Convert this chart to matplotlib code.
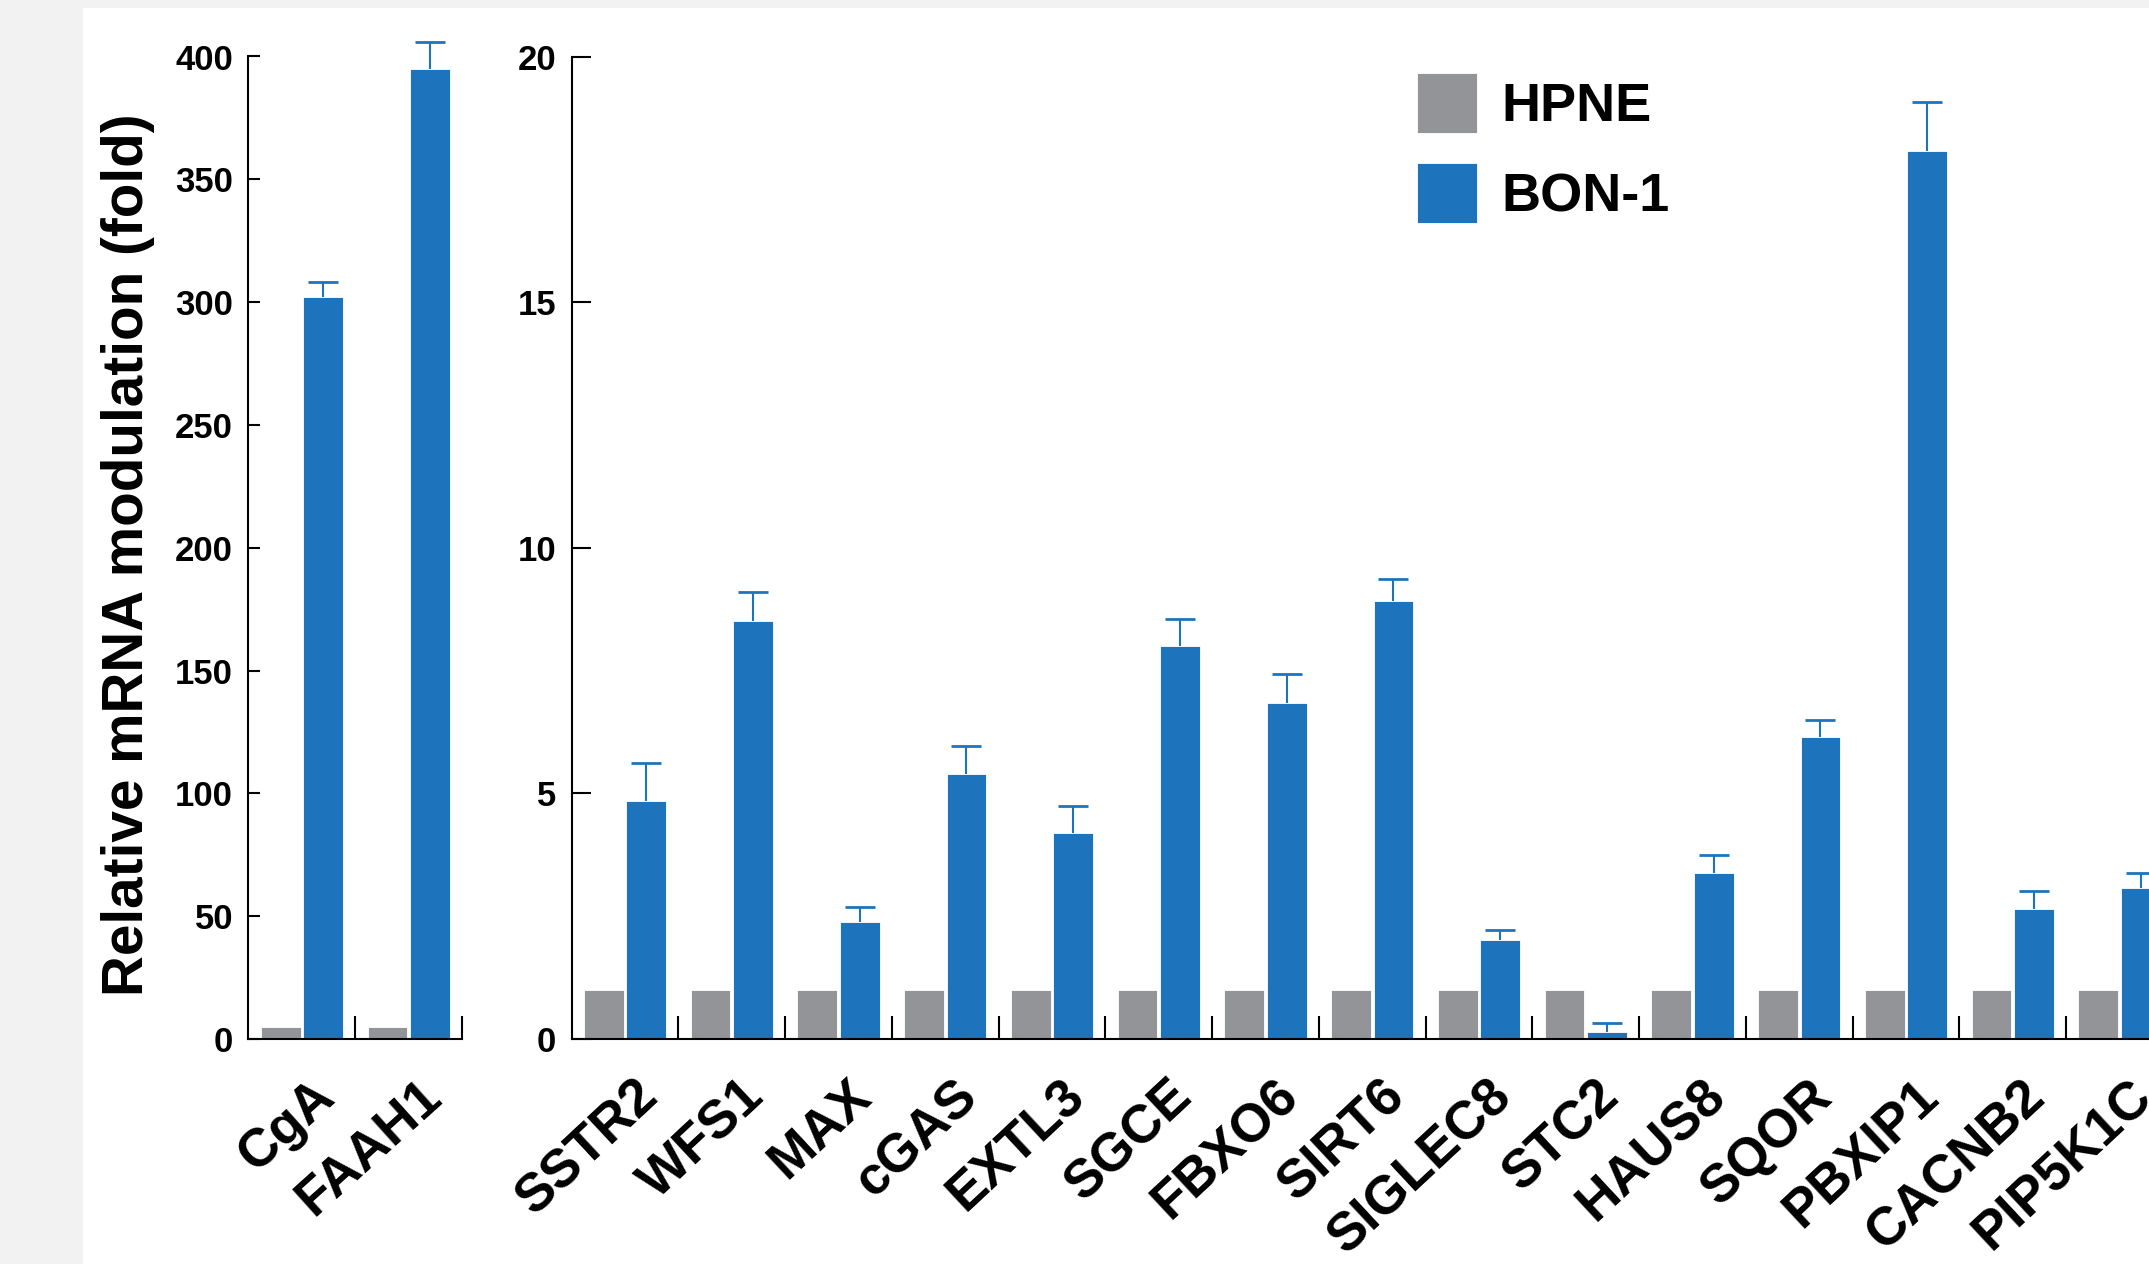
import numpy as np
import matplotlib
matplotlib.use("Agg")
import matplotlib.pyplot as plt
from matplotlib.patches import Rectangle

plt.rcParams['font.family'] = ['Liberation Sans', 'DejaVu Sans']
plt.rcParams['font.weight'] = 'bold'

# data
left_genes = ['CgA', 'FAAH1']
left_hpne = [5, 5]
left_bon = [302, 395]
left_err = [6, 11]

right_genes = ['SSTR2', 'WFS1', 'MAX', 'cGAS', 'EXTL3', 'SGCE', 'FBXO6', 'SIRT6',
               'SIGLEC8', 'STC2', 'HAUS8', 'SQOR', 'PBXIP1', 'CACNB2', 'PIP5K1C']
right_hpne = [1, 1, 1, 1, 1, 1, 1, 1, 1, 1, 1, 1, 1, 1, 1]
right_bon = [4.84, 8.51, 2.39, 5.40, 4.20, 8.01, 6.83, 8.92,
             2.01, 0.15, 3.37, 6.15, 18.08, 2.64, 3.07]
right_err = [0.78, 0.59, 0.30, 0.56, 0.55, 0.54, 0.61, 0.44,
             0.21, 0.17, 0.38, 0.35, 1.00, 0.38, 0.30]

left_ticks = [0, 50, 100, 150, 200, 250, 300, 350, 400]
right_ticks = [0, 5, 10, 15, 20]

GRAY = '#939498'
BLUE = '#1e74bc'

W, H = 2149, 1264
fig = plt.figure(figsize=(W / 100, H / 100), dpi=100)
fig.patch.set_facecolor('#f2f2f2')
fig.add_artist(Rectangle((83 / W, 0), 1, 1 - 8 / H, transform=fig.transFigure,
                         facecolor='white', edgecolor='none', zorder=-1))

pitch = 106.75
y0, y1 = 1039, 56.5
axL = fig.add_axes([248.3 / W, (H - y0) / H, 2 * pitch / W, (y0 - y1) / H])
axR = fig.add_axes([571.5 / W, (H - y0) / H, 15 * pitch / W, (y0 - y1) / H])


def panel(ax, genes, hpne, bon, err, yticks, ylen, rot):
    n = len(genes)
    x = np.arange(n)
    g = ax.bar(x + 0.303, hpne, width=0.372, color=GRAY, edgecolor='white', linewidth=0.6)
    b = ax.bar(x + 0.700, bon, width=0.372, color=BLUE, edgecolor='white', linewidth=0.6)
    eb = ax.errorbar(x + 0.700, bon, yerr=[np.zeros(n), err], fmt='none', ecolor=BLUE,
                     elinewidth=1.5, capsize=11, capthick=2)
    caps = list(eb.lines[1])
    # only the upper cap is shown
    for c in caps:
        if np.allclose(c.get_ydata(), bon):
            c.set_visible(False)
    for a in caps + list(eb.lines[2]):
        a.set_clip_on(False)
    ax.set_xlim(0, n)
    ax.set_ylim(yticks[0], yticks[-1])
    ax.set_facecolor('none')
    for s in ['top', 'right']:
        ax.spines[s].set_visible(False)
    for s in ['left', 'bottom']:
        ax.spines[s].set_linewidth(1.5)
    ax.set_yticks(yticks)
    ax.set_yticklabels([str(t) for t in yticks], fontsize=25, fontweight='bold')
    ax.tick_params(axis='y', direction='in', length=ylen, width=1.5, pad=11)
    ax.set_xticks(np.arange(1, n + 1))
    ax.set_xticklabels([])
    ax.tick_params(axis='x', which='major', direction='in', length=16.5, width=1.5)
    ax.set_xticks(x + 0.74, minor=True)
    ax.set_xticklabels(genes, minor=True, fontsize=38.5, fontweight='bold', rotation=rot,
                       ha='right', va='center', rotation_mode='anchor')
    ax.tick_params(axis='x', which='minor', length=0, pad=36)
    return g, b


panel(axL, left_genes, left_hpne, left_bon, left_err, left_ticks, 8.6, 42)
g, b = panel(axR, right_genes, right_hpne, right_bon, right_err, right_ticks, 13.7, 43)

fig.text(128 / W, 1 - 555 / H, 'Relative mRNA modulation (fold)', rotation=90,
         ha='center', va='center', fontsize=40.8, fontweight='bold')

fig.legend([g, b], ['HPNE', 'BON-1'], loc='upper left',
           bbox_to_anchor=(1417 / W, 1 - 73 / H), frameon=False, borderaxespad=0,
           borderpad=0, prop={'size': 39, 'weight': 'bold'}, handlelength=1.1,
           handleheight=1.32, handletextpad=0.46, labelspacing=0.56)

fig.savefig('out.png', dpi=100, facecolor=fig.get_facecolor())
